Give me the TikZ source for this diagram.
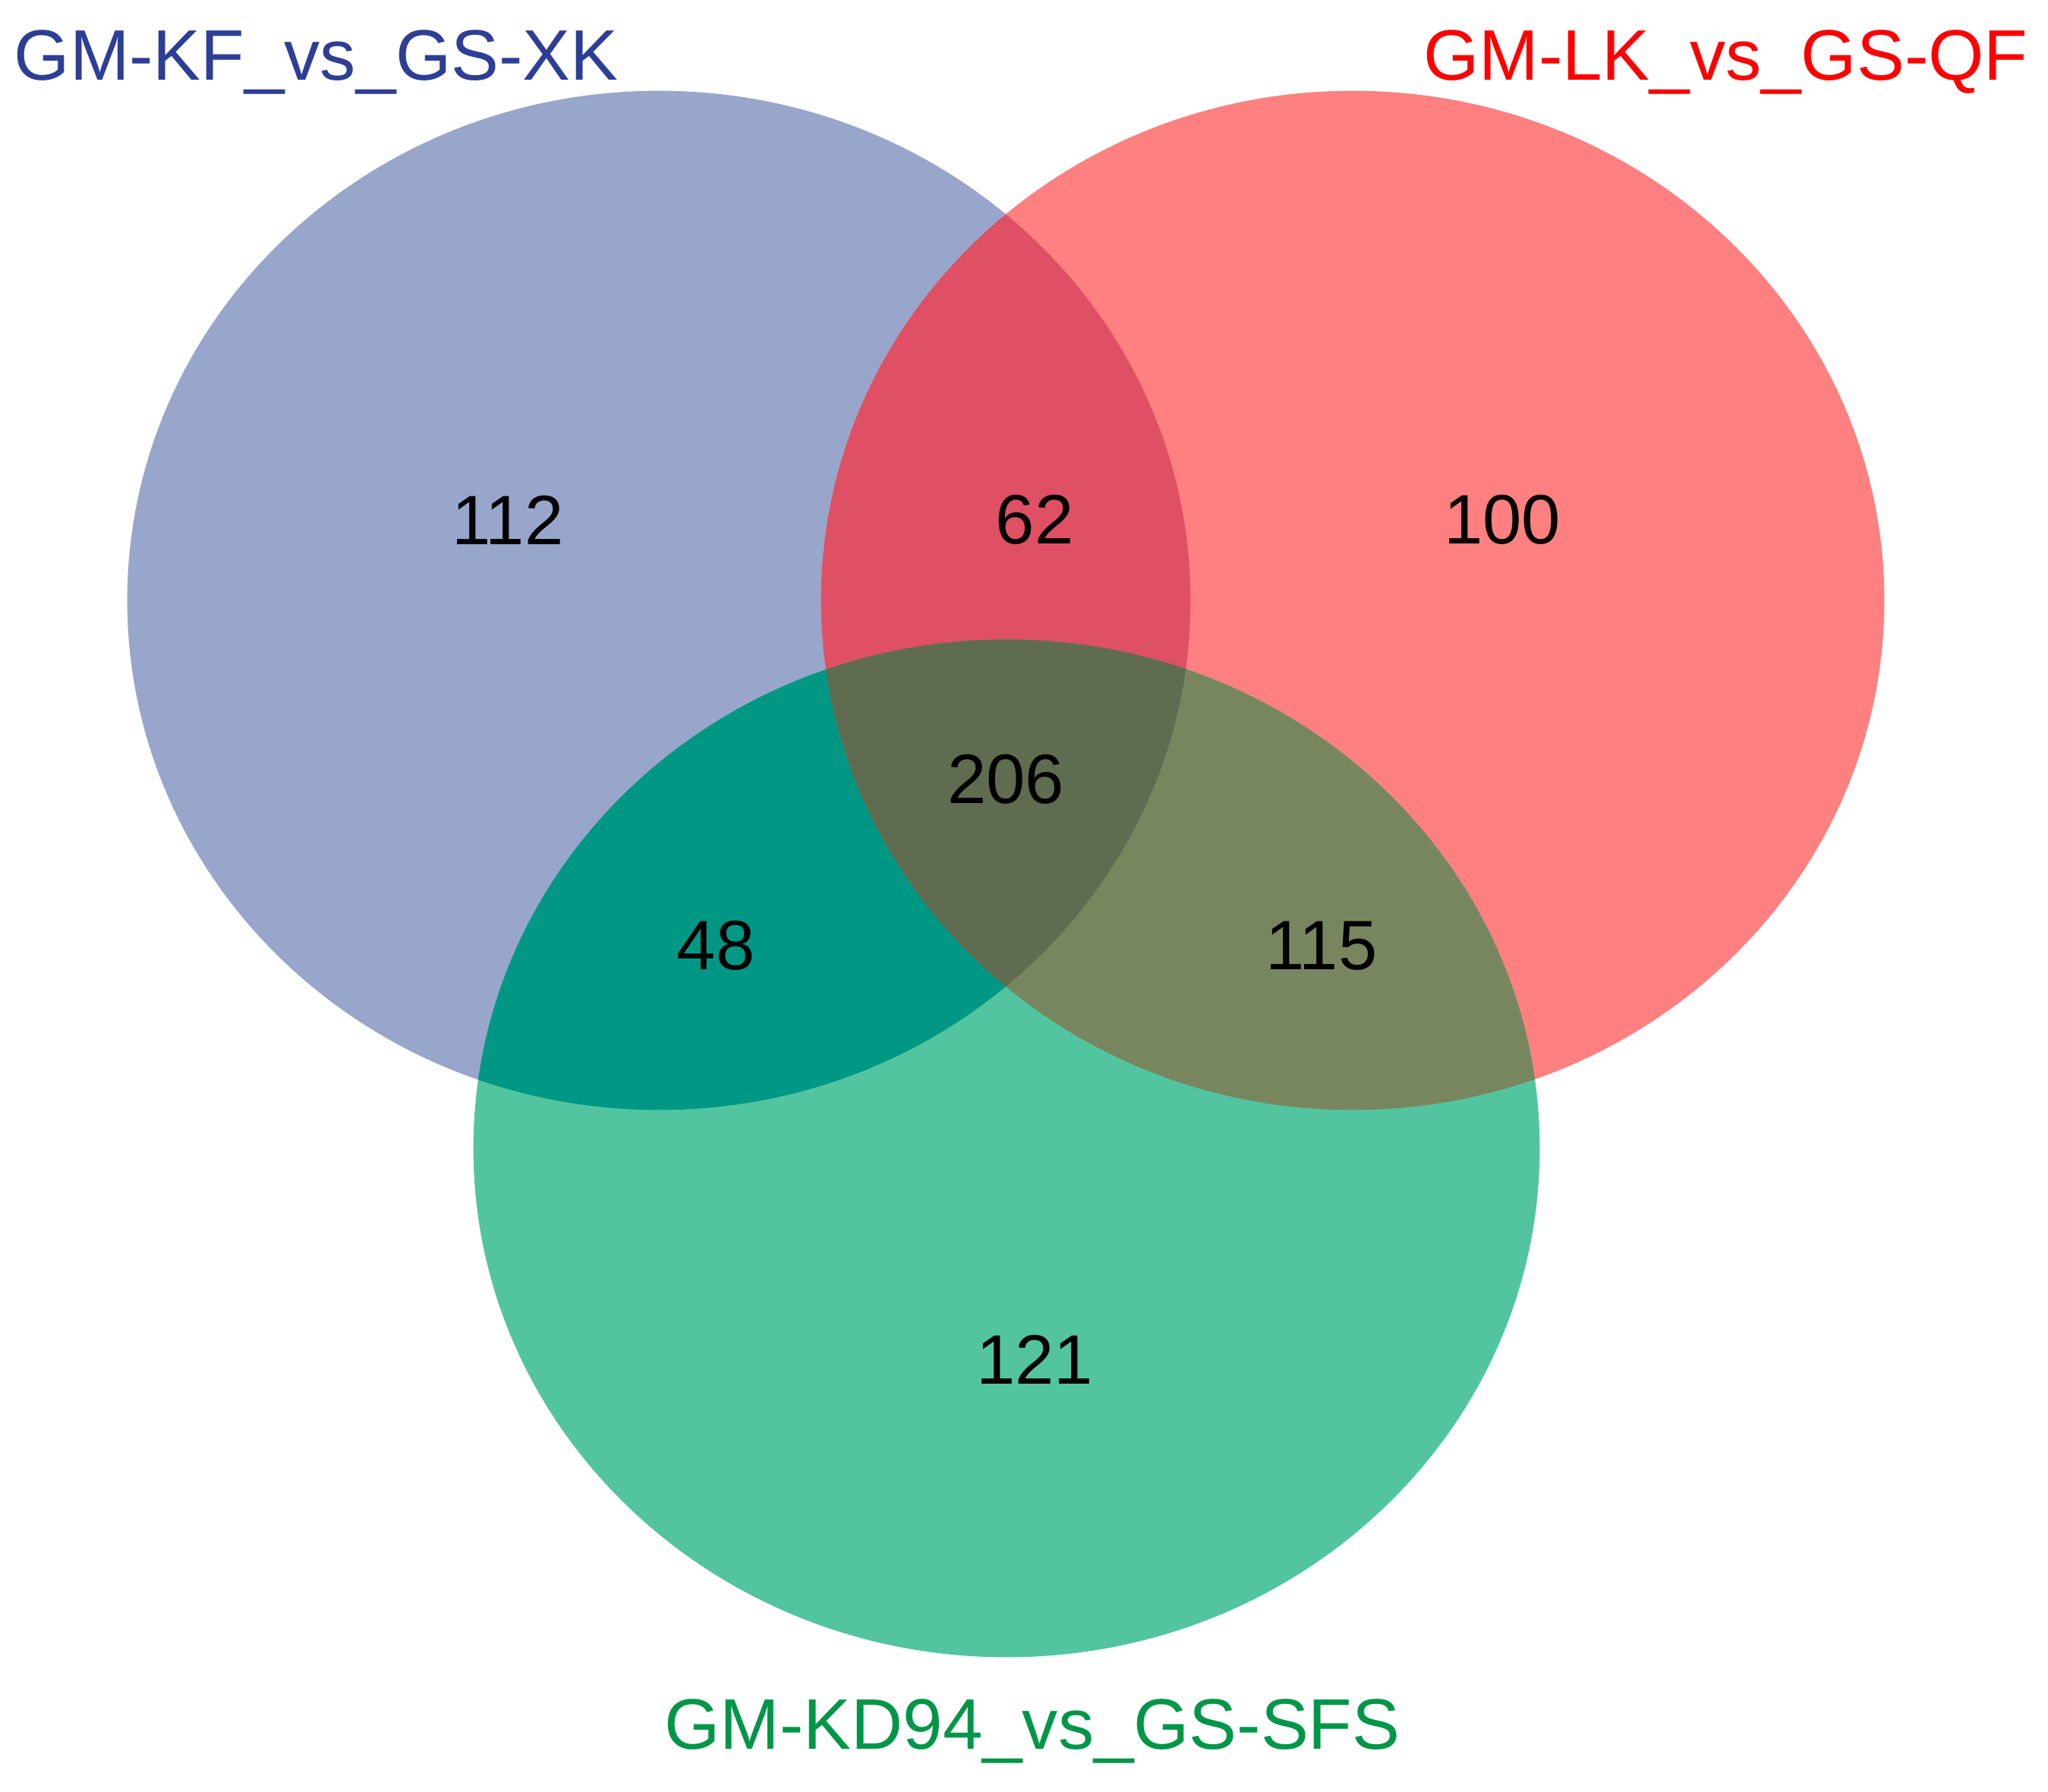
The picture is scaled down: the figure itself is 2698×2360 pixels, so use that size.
\documentclass[tikz,border=0pt]{standalone}
\usepackage{fontspec}
\setmainfont{Liberation Sans}
\definecolor{cA}{RGB}{153,166,203}
\definecolor{cB}{RGB}{255,128,128}
\definecolor{cC}{RGB}{82,197,160}
\definecolor{cAB}{RGB}{224,80,100}
\definecolor{cAC}{RGB}{0,152,133}
\definecolor{cBC}{RGB}{120,134,95}
\definecolor{cABC}{RGB}{95,108,80}
\definecolor{tA}{RGB}{44,62,150}
\definecolor{tB}{RGB}{255,0,0}
\definecolor{tC}{RGB}{0,150,72}
\tikzset{
  numlbl/.style={inner sep=0pt, font=\fontsize{26.2}{31}\selectfont, text=black},
  setlbl/.style={inner sep=0pt, font=\fontsize{26.8}{32}\selectfont},
}
\def\ellA{(868,791) ellipse [x radius=7cm, y radius=6.71cm]}
\def\ellB{(1782,791) ellipse [x radius=7cm, y radius=6.71cm]}
\def\ellC{(1326,1513) ellipse [x radius=7.02cm, y radius=6.70cm]}
\begin{document}
\begin{tikzpicture}[x=0.01cm, y=-0.01cm]
\useasboundingbox (0,0) rectangle (2698,2360);
\fill[white] (0,0) rectangle (2698,2360);
% single sets
\fill[cA] \ellA;
\fill[cB] \ellB;
\fill[cC] \ellC;
% pairwise overlaps
\begin{scope}
  \clip \ellA;
  \fill[cAB] \ellB;
  \fill[cAC] \ellC;
\end{scope}
\begin{scope}
  \clip \ellB;
  \fill[cBC] \ellC;
\end{scope}
% triple overlap
\begin{scope}
  \clip \ellA;
  \clip \ellB;
  \fill[cABC] \ellC;
\end{scope}
% set labels
\node[setlbl, text=tA, anchor=base west] (labA) at (18,105) {GM-KF\_vs\_GS-XK};
\node[setlbl, text=tB, anchor=base east] (labB) at (2672,105) {GM-LK\_vs\_GS-QF};
\node[setlbl, text=tC, anchor=base] (labC) at (1360,2304) {GM-KD94\_vs\_GS-SFS};
% counts
\node[numlbl] (nA) at (669,685) {112};
\node[numlbl] (nAB) at (1363,685) {62};
\node[numlbl] (nB) at (1979,685) {100};
\node[numlbl] (nABC) at (1325,1027) {206};
\node[numlbl] (nAC) at (943,1246) {48};
\node[numlbl] (nBC) at (1741,1246) {115};
\node[numlbl] (nC) at (1363,1791) {121};
\end{tikzpicture}
\end{document}
